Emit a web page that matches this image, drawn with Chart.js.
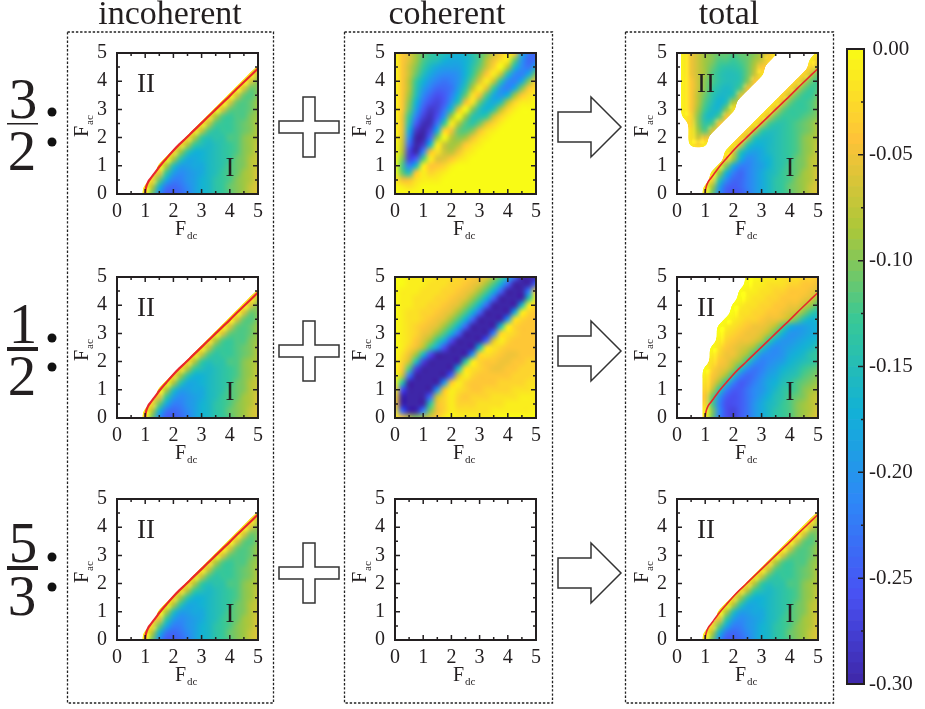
<!DOCTYPE html>
<html><head><meta charset="utf-8">
<script src="https://cdn.jsdelivr.net/npm/chart.js@4"></script>
<style>
html,body{margin:0;padding:0;background:#fff}
#page{position:relative;width:925px;height:709px;overflow:hidden}
canvas{position:absolute}
svg{position:absolute;left:0;top:0}
svg text{font-family:"Liberation Serif",serif;fill:#231f20}
</style></head><body><div id="page"></div>
<script>
const gap = k => Array(k).fill(null);

const fDcNodes = [0,0.25,0.5,0.75,1,1.25,1.5,1.75,2,2.25,2.5,2.75,3,3.25,3.5,3.75,4,4.25,4.5,4.75,5];
const fAcNodes = [5,4.75,4.5,4.25,4,3.75,3.5,3.25,3,2.75,2.5,2.25,2,1.75,1.5,1.25,1,0.75,0.5,0.25,0];
const majorTicks = [0,1,2,3,4,5];
const minorTicks = [0.5,1.5,2.5,3.5,4.5];
const colTitles = ['incoherent','coherent','total'];
const fractions = [['3','2'],['1','2'],['5','3']];

// values are in hundredths, negative sign applied when read (top row is Fac = 5)
const gridIncoherent = [
 gap(21),
 gap(21),
 [...gap(20),2],
 [...gap(19),2,7],
 [...gap(18),1,6,10],
 [...gap(17),1,6,11,10],
 [...gap(16),1,6,11,12,10],
 [...gap(15),1,6,11,12,11,9],
 [...gap(14),1,6,11,12,12,11,9],
 [...gap(13),3,8,12,13,12,12,10,9],
 [...gap(12),2,7,12,13,13,12,11,10,8],
 [...gap(11),2,7,12,14,13,13,12,11,10,8],
 [...gap(10),3,8,13,15,14,14,12,12,10,9,8],
 [...gap(9),3,8,13,15,16,15,14,13,12,10,9,7],
 [...gap(8),3,9,14,17,17,16,15,14,13,12,10,9,7],
 [...gap(7),1,8,14,18,18,17,16,15,14,13,11,10,8,7],
 [...gap(6),1,8,15,19,19,18,18,16,15,14,12,11,10,8,7],
 [...gap(6),5,13,19,21,20,19,18,16,15,13,12,11,9,8,6],
 [...gap(5),3,11,18,22,22,20,19,17,16,14,13,12,10,9,8,6],
 [...gap(4),1,8,17,23,24,23,21,19,17,16,14,13,11,10,9,7,6],
 [...gap(4),1,11,21,25,25,24,22,19,17,16,14,13,12,10,9,7,6]
];
const gridCoherentThreeHalves = [
 [0,4,6,9,11,13,14,15,16,17,16,14,12,10,7,4,1,4,18,23,24],
 [0,4,6,9,12,14,15,17,18,18,17,15,12,8,5,2,1,11,20,24,23],
 [0,4,7,10,13,16,18,19,19,19,17,14,11,7,3,0,8,16,21,23,18],
 [0,4,7,11,15,18,20,21,21,20,17,13,9,4,1,7,15,21,22,18,10],
 [0,4,8,13,17,20,22,23,22,20,16,11,6,1,7,14,21,22,18,10,4],
 [0,4,8,14,19,22,24,24,23,19,14,8,1,6,13,20,22,18,10,4,2],
 [0,4,9,15,21,24,26,25,22,17,11,2,5,12,18,20,17,9,4,2,1],
 [0,4,10,17,23,26,27,25,20,14,5,2,11,16,18,15,8,3,1,1,0],
 [0,4,11,19,25,28,27,23,16,6,0,10,15,17,14,8,3,1,0,0,0],
 [0,5,13,22,27,29,26,20,9,0,9,14,15,13,7,3,1,0,0,0,0],
 [0,5,15,25,29,29,23,13,1,8,12,14,11,6,3,1,0,0,0,0,0],
 [0,5,18,28,30,27,18,3,5,11,12,10,5,2,1,0,0,0,0,0,0],
 [0,6,21,30,30,24,10,0,8,10,9,5,2,1,0,0,0,0,0,0,0],
 [0,7,24,30,28,17,1,7,9,8,4,2,1,0,0,0,0,0,0,0,0],
 [0,8,27,30,22,5,2,7,8,5,2,1,0,0,0,0,0,0,0,0,0],
 [0,10,27,25,12,1,6,6,4,2,1,0,0,0,0,0,0,0,0,0,0],
 [0,12,22,16,1,4,4,3,1,0,0,0,0,0,0,0,0,0,0,0,0],
 [0,11,15,4,1,3,2,1,0,0,0,0,0,0,0,0,0,0,0,0,0],
 [1,5,5,2,1,1,1,0,0,0,0,0,0,0,0,0,0,0,0,0,0],
 [0,1,2,1,0,0,0,0,0,0,0,0,0,0,0,0,0,0,0,0,0],
 [0,0,0,0,0,0,0,0,0,0,0,0,0,0,0,0,0,0,0,0,0]
];
const gridCoherentOneHalf = [
 [0,0,1,1,1,1,2,2,2,3,3,4,5,6,9,12,17,24,30,30,30],
 [0,0,1,1,1,2,2,2,3,3,4,5,6,9,12,17,24,30,30,30,24],
 [0,1,1,1,2,2,2,3,3,4,5,6,9,12,17,24,30,30,30,22,3],
 [0,1,1,2,2,2,3,3,4,5,6,9,12,17,24,30,30,30,30,14,1],
 [0,1,1,2,2,3,3,4,5,6,9,12,17,24,30,30,30,30,16,1,3],
 [0,1,2,2,3,3,4,5,6,9,12,17,24,30,30,30,30,18,1,3,4],
 [0,1,2,2,3,4,5,6,9,12,17,24,30,30,30,30,20,2,3,4,4],
 [0,1,2,3,4,5,6,9,12,17,24,30,30,30,30,16,1,3,4,4,4],
 [0,1,2,3,5,6,9,12,17,24,30,30,30,30,22,3,2,3,4,4,4],
 [0,1,2,4,6,9,13,18,26,30,30,30,30,24,6,1,3,4,4,4,4],
 [0,1,3,5,8,13,19,26,30,30,30,30,16,2,2,3,4,4,4,4,4],
 [0,2,5,9,16,26,30,30,30,30,30,20,3,2,3,4,5,5,4,4,4],
 [0,3,7,15,27,30,30,30,30,30,14,1,3,4,4,5,5,4,4,3,3],
 [0,4,12,27,30,30,30,30,30,16,2,2,3,4,5,5,4,4,3,3,3],
 [0,7,23,30,30,30,30,30,24,6,1,3,4,4,4,4,4,3,3,3,2],
 [1,14,30,30,30,30,30,20,4,1,3,4,4,4,4,3,3,3,3,2,2],
 [1,26,30,30,30,30,20,5,1,2,3,4,4,3,3,3,3,2,2,2,1],
 [2,30,30,30,30,24,7,3,1,3,4,3,3,3,2,2,2,2,1,1,1],
 [3,30,30,30,30,14,5,3,1,3,3,3,2,2,2,2,1,1,1,1,1],
 [2,24,30,30,22,10,5,3,1,2,2,2,2,2,1,1,1,1,1,1,0],
 [1,4,8,10,8,6,4,1,0,1,1,1,1,1,1,0,0,0,0,0,0]
];
const gridTotalThreeHalves = [
 [...gap(1),1,5,7,9,10,11,11,12,11,11,10,8,5,1,...gap(5),1],
 [...gap(1),1,5,7,9,10,12,12,13,12,11,9,7,3,...gap(5),1,5],
 [...gap(1),1,5,7,9,11,13,14,14,13,11,8,4,...gap(6),3,7],
 [...gap(1),1,5,7,9,12,14,15,15,14,11,7,2,...gap(5),3,7,11],
 [...gap(1),1,4,7,10,12,14,15,15,14,10,4,...gap(5),3,7,11,13],
 [...gap(1),1,4,7,10,13,15,16,15,12,5,...gap(5),3,7,11,13,12],
 [...gap(1),1,4,8,11,14,16,16,14,6,...gap(5),3,7,11,13,13,11],
 [...gap(1),1,4,8,12,15,17,15,8,...gap(5),2,6,11,13,13,12,10],
 [...gap(1),1,4,9,13,16,16,10,2,...gap(4),2,6,11,13,13,13,12,10],
 [...gap(1),1,3,10,15,16,12,4,...gap(4),2,6,11,13,13,13,12,11,10],
 [...gap(2),3,10,14,12,4,...gap(4),2,6,12,14,14,13,12,11,10,8],
 [...gap(2),2,9,12,6,...gap(4),3,7,13,15,15,14,13,12,11,10,8],
 [...gap(2),2,7,5,...gap(4),3,7,14,16,16,15,14,13,12,10,9,8],
 [...gap(2),1,3,1,...gap(3),2,6,14,17,17,16,15,14,13,12,10,9,7],
 [...gap(7),1,6,14,18,19,18,16,15,14,13,12,10,9,7],
 [...gap(7),3,9,17,21,20,18,17,15,14,13,11,10,8,7],
 [...gap(6),2,10,18,22,22,20,19,17,15,14,12,11,10,8,7],
 [...gap(5),1,9,17,22,24,22,20,18,16,15,13,12,11,9,8,6],
 [...gap(5),3,14,21,24,24,22,20,18,16,14,13,12,10,9,8,6],
 [...gap(4),1,9,19,24,25,24,22,20,18,16,14,13,11,10,9,7,6],
 [...gap(4),1,11,21,25,26,25,23,20,18,16,14,13,12,10,9,7,6]
];
const gridTotalOneHalf = [
 [...gap(10),0,0,1,1,1,2,2,2,3,3,4],
 [...gap(10),0,1,1,2,2,2,3,3,4,4,5],
 [...gap(9),0,1,1,2,2,3,3,4,4,4,5,6],
 [...gap(9),0,1,2,2,3,3,4,4,4,5,6,9],
 [...gap(8),0,1,2,2,3,3,4,4,5,5,7,9,12],
 [...gap(8),0,2,2,3,3,4,4,5,6,7,10,13,15],
 [...gap(7),0,1,2,3,3,4,5,5,6,8,11,15,17,16],
 [...gap(6),0,1,2,3,4,5,5,6,8,12,17,19,19,18,17],
 [...gap(6),0,2,3,4,5,5,6,8,12,17,20,20,19,18,17],
 [...gap(6),1,3,4,5,5,6,8,13,18,20,20,19,18,17,16],
 [...gap(5),0,2,4,5,6,7,9,14,19,21,20,19,18,17,16,14],
 [...gap(5),1,3,5,5,7,9,14,20,21,21,20,18,17,16,14,13],
 [...gap(5),2,4,5,7,9,14,20,22,21,20,19,17,16,15,14,13],
 [...gap(4),0,3,5,6,9,15,21,23,22,20,19,17,16,15,13,12,11],
 [...gap(4),1,4,6,9,15,22,24,23,21,19,18,16,15,14,12,11,10],
 [...gap(4),2,5,9,15,22,25,24,22,20,18,17,15,14,12,11,10,9],
 [...gap(4),3,7,14,22,25,25,23,21,20,18,16,14,13,12,10,9,8],
 [...gap(4),4,11,20,25,26,25,23,21,19,17,15,14,12,11,10,8,7],
 [...gap(4),3,12,22,26,26,25,23,20,18,16,15,13,12,10,9,8,7],
 [...gap(4),1,10,21,26,27,25,23,20,18,16,14,13,12,10,9,8,6],
 [...gap(4),1,11,22,26,27,25,23,20,18,16,14,13,12,10,9,7,6]
];
const gridEmpty = [];

const boundaryFdc = [1,1.01,1.04,1.1,1.2,1.35,1.53,1.75,1.96,2.2,2.45,2.7,2.95,3.2,3.5,3.75,4,4.25,4.5,4.78,5];
const boundaryFac = [0,0.12,0.27,0.42,0.56,0.76,1,1.26,1.5,1.75,1.985,2.23,2.47,2.71,3,3.24,3.48,3.73,3.97,4.24,4.45];

const colorbarEdges = [30,29.5,29,28.5,28,27.5,27,26.5,26,25.5,25,24.5,24,23.5,23,22.5,22,21.5,21,20.5,20,19.5,19,18.5,18,17.5,17,16.5,16,15.5,15,14.5,14,13.5,13,12.5,12,11.5,11,10.5,10,9.5,9,8.5,8,7.5,7,6.5,6,5.5,5,4.5,4,3.5,3,2.5,2,1.5,1,0.5,0];
const colorbarMajor = [0,-0.05,-0.1,-0.15,-0.2,-0.25,-0.3];
const colorbarMinor = [-0.025,-0.075,-0.125,-0.175,-0.225,-0.275];

const paletteStops = [[62,38,168],[72,82,244],[46,135,247],[18,177,214],[55,200,151],[171,199,57],[254,195,56],[249,251,21]];
function colorFor(h){ // h: hundredths below zero, 0..30
  const t = Math.max(0,Math.min(1,1-h/30))*(paletteStops.length-1);
  const i = Math.min(paletteStops.length-2,Math.floor(t)), f = t-i;
  const a = paletteStops[i], b = paletteStops[i+1];
  return `rgb(${a.map((v,k)=>Math.round(v+(b[k]-v)*f)).join(',')})`;
}

const INK = '#231f20';
const colLefts = [117,395,677], rowTops = [53,277,499], SIZE = 141;
const page = document.getElementById('page');

function mk(w,h){const c=document.createElement('canvas');c.width=w;c.height=h;return c;}
// smooth the node image up to panel size and give the coloured region a crisp, smooth edge
function softImage(off,n,W,H){
  const big=mk(W,H), b=big.getContext('2d',{willReadFrequently:true});
  b.imageSmoothingEnabled=true; b.imageSmoothingQuality='high';
  b.drawImage(off,0.5,0.5,n,n,0,0,W,H);
  const P=14, pad=mk(W+2*P,H+2*P), p=pad.getContext('2d');
  p.drawImage(big,0,0,1,H,0,P,P,H); p.drawImage(big,W-1,0,1,H,W+P,P,P,H);
  p.drawImage(big,0,0,W,1,P,0,W,P); p.drawImage(big,0,H-1,W,1,P,H+P,W,P);
  p.drawImage(big,P,P);
  const soft=mk(W+2*P,H+2*P), s=soft.getContext('2d',{willReadFrequently:true});
  s.filter='blur(3.5px)'; s.drawImage(pad,0,0);
  const col=b.getImageData(0,0,W,H), mask=s.getImageData(P,P,W,H).data, d=col.data;
  for(let i=3;i<d.length;i+=4){
    const a=Math.max(0,Math.min(1,(mask[i]/255-0.55)/0.05));
    d[i]=d[i]<20?0:Math.round(a*255);
  }
  b.putImageData(col,0,0);
  return big;
}
// paints the scatter cells at the pixel positions the chart's own scales gave them, with smoothing between nodes
const cellPlugin = {id:'softCells', beforeDatasetDraw(c,a){
  if(c.data.datasets[a.index].label!=='cells') return;
  const pts=a.meta.data; if(!pts.length) return false;
  const A=c.chartArea, n=fDcNodes.length-1, stepX=A.width/n, stepY=A.height/n;
  const off=mk(n+1,n+1), o=off.getContext('2d');
  pts.forEach(p=>{o.fillStyle=p.options.backgroundColor;o.fillRect(Math.round((p.x-A.left)/stepX),Math.round((p.y-A.top)/stepY),1,1);});
  const img=softImage(off,n,Math.round(A.width),Math.round(A.height));
  c.ctx.drawImage(img,A.left,A.top,A.width,A.height);
  return false;
}};
const framePlugin = {id:'frame', afterDatasetsDraw(c){
  const {ctx,chartArea:A,scales:{x,y}} = c;
  ctx.save(); ctx.strokeStyle=INK; ctx.lineWidth=1.5; ctx.beginPath();
  const tick=(v,len)=>{const px=x.getPixelForValue(v),py=y.getPixelForValue(v);
    ctx.moveTo(px,A.bottom);ctx.lineTo(px,A.bottom-len);
    ctx.moveTo(px,A.top);ctx.lineTo(px,A.top+len);
    ctx.moveTo(A.left,py);ctx.lineTo(A.left+len,py);
    ctx.moveTo(A.right,py);ctx.lineTo(A.right-len,py);};
  majorTicks.forEach(v=>tick(v,5)); minorTicks.forEach(v=>tick(v,3));
  ctx.stroke(); ctx.lineWidth=2; ctx.strokeRect(A.left,A.top,A.width,A.height); ctx.restore();
}};

function panel(col,row,grid,withBoundary){
  const cv=document.createElement('canvas');
  cv.width=201;cv.height=215;cv.style.left=(colLefts[col]-45)+'px';cv.style.top=(rowTops[row]-24)+'px';
  page.appendChild(cv);
  const cells=[],colors=[];
  grid.forEach((r,ri)=>r.forEach((v,ci)=>{ if(v!==null){cells.push({x:fDcNodes[ci],y:fAcNodes[ri]});colors.push(colorFor(v));}}));
  const datasets=[{label:'cells',data:cells,pointStyle:'rect',pointRadius:5,pointBorderWidth:0,pointBackgroundColor:colors,showLine:false,order:2}];
  if(withBoundary) datasets.push({label:'boundary',data:boundaryFdc.map((v,i)=>({x:v,y:boundaryFac[i]})),showLine:true,pointRadius:0,borderColor:'#e8262b',borderWidth:col===0?2.2:1.6,cubicInterpolationMode:'monotone',order:1});
  const tickSet=s=>{s.ticks=majorTicks.map(v=>({value:v}));};
  const font={family:'"Liberation Serif",serif',size:20};
  new Chart(cv,{type:'scatter',data:{datasets},plugins:[cellPlugin,framePlugin],options:{
    responsive:false,animation:false,
    layout:{padding:{left:0,right:15,top:24,bottom:0}},
    plugins:{legend:{display:false},tooltip:{enabled:false}},
    scales:{
      x:{type:'linear',min:0,max:5,afterBuildTicks:tickSet,afterFit:s=>{s.height=50;},grid:{display:false,drawTicks:false},border:{display:false},
         ticks:{color:INK,font,padding:6,maxRotation:0,autoSkip:false}},
      y:{type:'linear',min:0,max:5,afterBuildTicks:tickSet,afterFit:s=>{s.width=45;},grid:{display:false,drawTicks:false},border:{display:false},
         ticks:{color:INK,font,padding:10,autoSkip:false}}
    }}});
}
const panels=[
 [gridIncoherent,gridCoherentThreeHalves,gridTotalThreeHalves],
 [gridIncoherent,gridCoherentOneHalf,gridTotalOneHalf],
 [gridIncoherent,gridEmpty,gridIncoherent]
];
panels.forEach((rows,r)=>rows.forEach((g,c)=>panel(c,r,g,c!==1)));

// colour bar
(function(){
  const cv=document.createElement('canvas');cv.width=85;cv.height=680;cv.style.left='840px';cv.style.top='29px';page.appendChild(cv);
  const datasets=[];
  for(let i=0;i<colorbarEdges.length-1;i++){const lo=colorbarEdges[i],hi=colorbarEdges[i+1];
    datasets.push({data:[[-lo/100,-hi/100]],backgroundColor:colorFor((lo+hi)/2),borderWidth:0,barPercentage:1,categoryPercentage:1,grouped:false});}
  new Chart(cv,{type:'bar',data:{labels:['c'],datasets},plugins:[{id:'cbFrame',afterDatasetsDraw(c){
    const {ctx,chartArea:A,scales:{y}}=c;ctx.save();ctx.strokeStyle=INK;ctx.lineWidth=1.5;ctx.beginPath();
    colorbarMajor.forEach(v=>{const p=y.getPixelForValue(v);ctx.moveTo(A.right,p);ctx.lineTo(A.right-6,p);});
    colorbarMinor.forEach(v=>{const p=y.getPixelForValue(v);ctx.moveTo(A.right,p);ctx.lineTo(A.right-3,p);});
    ctx.stroke();ctx.lineWidth=2;ctx.strokeRect(A.left,A.top,A.width,A.height);ctx.restore();}}],
   options:{responsive:false,animation:false,
    layout:{padding:{left:7,right:0,top:20,bottom:25}},
    plugins:{legend:{display:false},tooltip:{enabled:false}},
    scales:{x:{display:false},
      y:{position:'right',min:-0.3,max:0,afterBuildTicks:s=>{s.ticks=colorbarMajor.map(v=>({value:v}));},afterFit:s=>{s.width=61;},
         grid:{display:false,drawTicks:false},border:{display:false},
         ticks:{color:INK,font:{family:'"Liberation Serif",serif',size:21},padding:5,crossAlign:'center',autoSkip:false,callback:v=>Number(v).toFixed(2)}}}}});
})();

// annotations
const NS='http://www.w3.org/2000/svg';
const svg=document.createElementNS(NS,'svg');svg.setAttribute('width',925);svg.setAttribute('height',709);page.appendChild(svg);
function el(n,a,p){const e=document.createElementNS(NS,n);for(const k in a)e.setAttribute(k,a[k]);(p||svg).appendChild(e);return e;}
function txt(x,y,s,size,anchor,p){const t=el('text',{x,y,'font-size':size,'text-anchor':anchor||'middle'},p);t.textContent=s;return t;}
const boxes=[[67,273],[344,552],[625,833]];
boxes.forEach(([a,b])=>{
  el('rect',{x:a+.5,y:32,width:b-a,height:671,fill:'none',stroke:'#222','stroke-width':1.3,'stroke-dasharray':'2.4 1.8'});
});
const titleX=[170,447,729];
colTitles.forEach((t,i)=>{txt(titleX[i],24,t,34);});
const fracNumBase=[118,343,562], fracBar=[123,347,566], fracBarH=[1.5,4,4], fracDenBase=[170,395,615], dotA=[112,338,557], dotB=[142,367,587];
rowTops.forEach((top,r)=>{
  colLefts.forEach((left,c)=>{
    txt(left+58,top+182,'F',20,'start'); txt(left+70,top+186,'dc',11,'start');
    const g=el('g',{transform:`translate(${left-29},${top+84}) rotate(-90)`});
    txt(0,0,'F',20,'start',g); txt(12,5,'ac',11,'start',g);
    if(c!==1){txt(left+29,top+39,'II',27);txt(left+113,top+123,'I',27);}
  });
  const [n,d]=fractions[r];
  txt(23,fracNumBase[r],n,57); txt(22,fracDenBase[r],d,57);
  el('rect',{x:7,y:fracBar[r],width:31,height:fracBarH[r],fill:INK});
  el('circle',{cx:52,cy:dotA[r],r:4.5,fill:'#111'}); el('circle',{cx:52,cy:dotB[r],r:4.5,fill:'#111'});
  const py=top+74,px=309;
  el('path',{d:`M${px-30} ${py-6}H${px-6}V${py-30}H${px+6}V${py-6}H${px+30}V${py+6}H${px+6}V${py+30}H${px-6}V${py+6}H${px-30}Z`,fill:'#fff',stroke:'#333','stroke-width':1.5});
  const ay=top+74;
  el('path',{d:`M558 ${ay-15}H591V${ay-30}L621 ${ay}L591 ${ay+30}V${ay+15}H558Z`,fill:'#fff',stroke:'#333','stroke-width':1.5});
});
</script></body></html>
